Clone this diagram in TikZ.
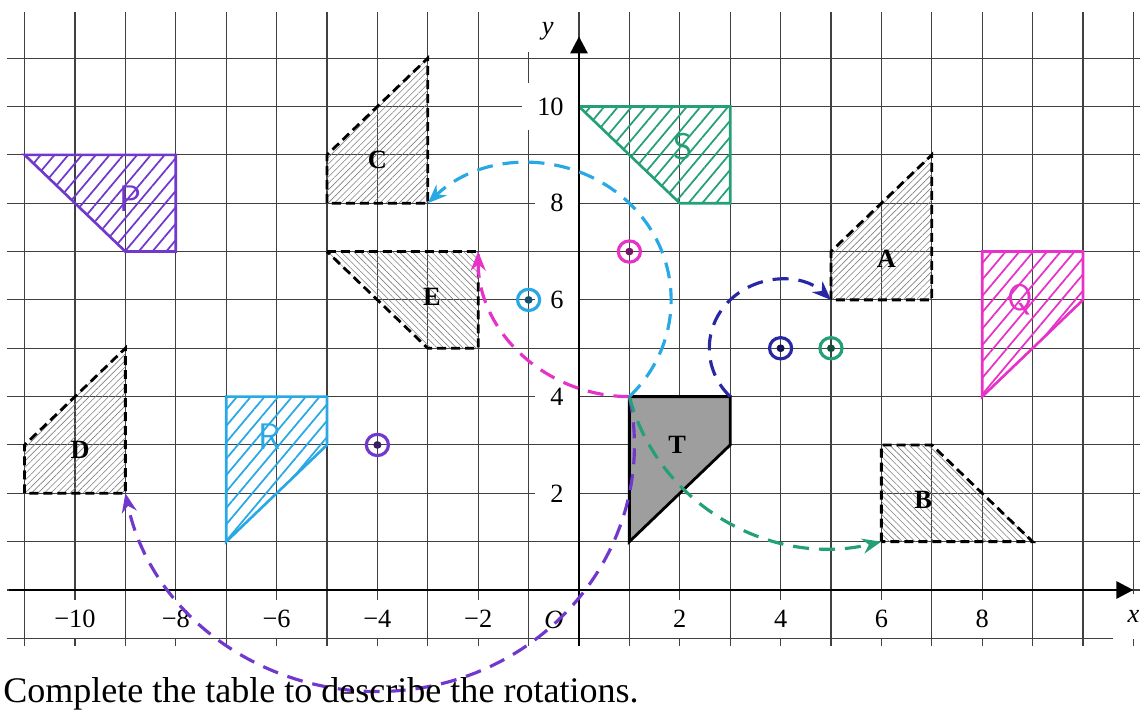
\documentclass[tikz,border=0pt]{standalone}
\usepackage{fontspec}
\setmainfont{Liberation Serif}
\usepackage{tikz}
\usetikzlibrary{arrows.meta, patterns.meta}
\usepackage{xcolor}
\definecolor{penpurple}{RGB}{112,56,204}
\definecolor{penpink}{RGB}{230,50,200}
\definecolor{pencyan}{RGB}{40,168,228}
\definecolor{pengreen}{RGB}{36,160,120}
\definecolor{pennavy}{RGB}{40,40,165}
\tikzset{
  gridline/.style={black!75, line width=0.6pt},
  axisline/.style={line width=1.6pt, -{Triangle[length=0.34cm,width=0.34cm]}},
  tracebox/.style={draw, line width=1.6pt, dash pattern=on 0.18cm off 0.1cm,
    pattern={Lines[angle=#1,distance=2.6pt,line width=0.35pt]}, pattern color=black!50},
  inkbox/.style={draw=#1, line width=1.5pt,
    pattern={Lines[angle=50,distance=6pt,line width=1pt]}, pattern color=#1},
  inkarc/.style={#1, line width=1.8pt, dash pattern=on 0.32cm off 0.2cm,
    -{Stealth[length=0.38cm,width=0.3cm]}},
  xlab/.style={fill=white, inner xsep=0.15cm, minimum height=0.75cm},
  ylab/.style={fill=white, anchor=east, inner xsep=0.3cm, minimum height=0.95cm},
  shapelab/.style={font=\bfseries\fontsize{15}{18}\selectfont},
  penlab/.style={text=#1, font=\sffamily\fontsize{21}{24}\selectfont}
}

\begin{document}
\begin{tikzpicture}[x=1.008cm, y=0.967cm, font=\fontsize{15}{18}\selectfont]
  \useasboundingbox (-11.488,-2.523) rectangle (11.131,12.203);
  \foreach \i in {-11,...,11}
    \draw[gridline] (\i,-1.15) -- (\i,11.95);
  \foreach \j in {-1,...,11}
    \draw[gridline] (-11.35,\j) -- (11.2,\j);

  \draw[tracebox=45] (5,6) -- (5,7) -- (7,9) -- (7,6) -- cycle;
  \draw[tracebox=-45] (6,1) -- (6,3) -- (7,3) -- (9,1) -- cycle;
  \draw[tracebox=45] (-5,8) -- (-5,9) -- (-3,11) -- (-3,8) -- cycle;
  \draw[tracebox=45] (-11,2) -- (-11,3) -- (-9,5) -- (-9,2) -- cycle;
  \draw[tracebox=-45] (-5,7) -- (-2,7) -- (-2,5) -- (-3,5) -- cycle;
  \draw[fill=black!38, line width=1.6pt] (1,4) -- (3,4) -- (3,3) -- (1,1) -- cycle;

  \draw[inkbox=penpurple] (-11,9) -- (-8,9) -- (-8,7) -- (-9,7) -- cycle;
  \draw[inkbox=penpink] (8,7) -- (10,7) -- (10,6) -- (8,4) -- cycle;
  \draw[inkbox=pencyan] (-7,4) -- (-5,4) -- (-5,3) -- (-7,1) -- cycle;
  \draw[inkbox=pengreen] (0,10) -- (3,10) -- (3,8) -- (2,8) -- cycle;

  \foreach \i/\t [count=\k] in {-10/{−10},-8/{−8},-6/{−6},-4/{−4},-2/{−2},2/2,4/4,6/6,8/8}
    \node[xlab] (xt\k) at (\i,-0.6) {\t};
  \foreach \j in {2,4,...,10}
    \node[ylab] (yt\j) at (0,\j) {\j};
  \node[fill=white, minimum width=0.8cm, minimum height=0.9cm] (xname) at (11,-0.55) {\itshape x};
  \node[fill=white, minimum width=0.95cm, minimum height=0.8cm] (yname) at (-0.62,11.55) {\itshape y};
  \node (origin) at (-0.5,-0.62) {\itshape O};
  \draw[axisline] (-11.3,0) -- (11,0);
  \draw[axisline] (0,-1.15) -- (0,11.45);

  \coordinate (T1) at (1,4);
  \coordinate (T2) at (3,4);
  \draw[inkarc=pencyan] (T1) arc[start angle=-45, end angle=135, radius=2.828];
  \draw[inkarc=penpink] (T1) arc[start angle=-90, end angle=-180, radius=3];
  \draw[inkarc=penpurple] (T1) arc[start angle=11.31, end angle=-168.69, radius=5.099];
  \draw[inkarc=pennavy] (T2) arc[start angle=225, end angle=45, radius=1.414];
  \draw[inkarc=pengreen] (T1) arc[start angle=194.04, end angle=284.04, radius=4.123];

  \foreach \x/\y/\c [count=\k] in {1/7/penpink, -1/6/pencyan, -4/3/penpurple, 4/5/pennavy, 5/5/pengreen} {
    \coordinate (cen\k) at (\x,\y);
    \draw[\c, line width=1.8pt] (cen\k) circle[radius=0.22];
    \fill[\c!50!black] (cen\k) circle[radius=0.08];
  }

  \node[shapelab] (labA) at (6.1,6.85) {A};
  \node[shapelab] (labB) at (6.83,1.86) {B};
  \node[shapelab] (labC) at (-4,8.9) {C};
  \node[shapelab] (labD) at (-9.9,2.9) {D};
  \node[shapelab] (labE) at (-2.92,6.07) {E};
  \node[shapelab] (labT) at (1.95,3.0) {T};
  \node[penlab=penpurple] (labP) at (-8.9,8.1) {P};
  \node[penlab=penpink] (labQ) at (8.75,6.0) {Q};
  \node[penlab=pencyan] (labR) at (-6.13,3.17) {R};
  \node[penlab=pengreen] (labS) at (2.07,9.17) {S};

  \node[anchor=base west, inner sep=0pt, font=\fontsize{20.5}{24}\selectfont] (note)
    at (-11.43,-2.33) {Complete the table to describe the rotations.};
\end{tikzpicture}
\end{document}
